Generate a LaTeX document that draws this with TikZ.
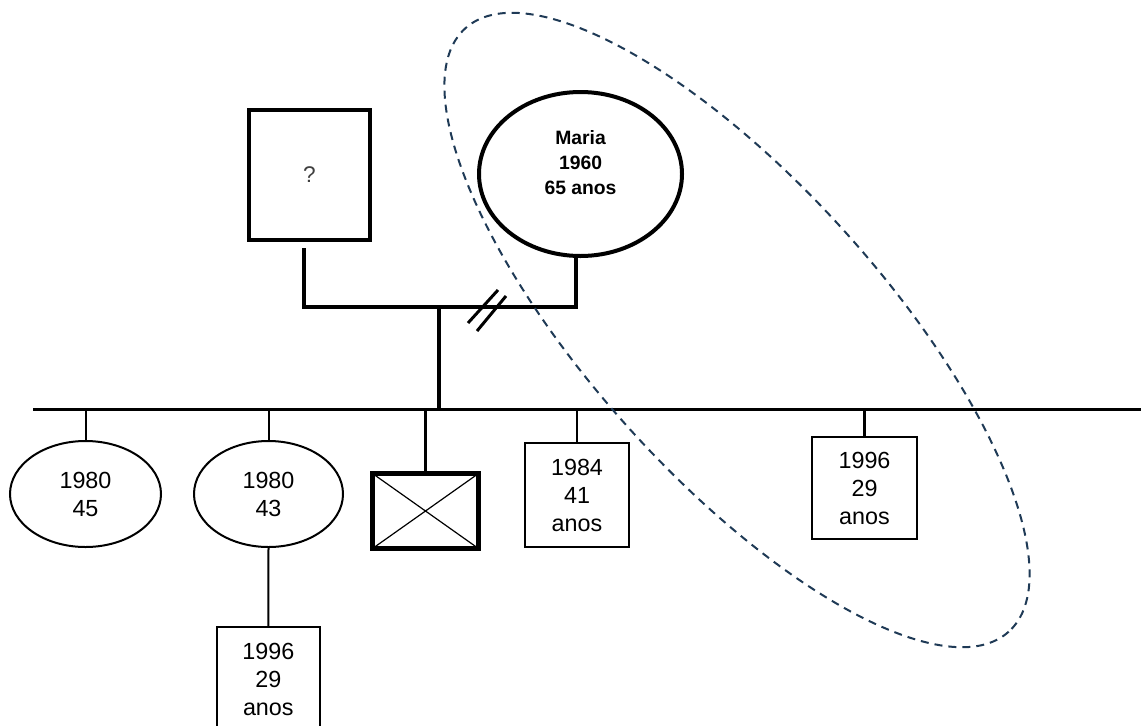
\documentclass[tikz,border=0pt]{standalone}
\usepackage{fontspec}
\setmainfont{Liberation Sans}
\usetikzlibrary{shapes.geometric}
\newdimen\pxu \pxu=0.75pt
\newcommand\kidfont{\fontsize{17.5}{21}\selectfont}
\newcommand\mariafont{\fontsize{14.5}{18.75}\selectfont\bfseries}
\definecolor{dashnavy}{HTML}{1F3A56}
\begin{document}
\begin{tikzpicture}[x=0.75pt,y=-0.75pt,
  sqbox/.style={draw, rectangle, line width=4\pxu, minimum width=121\pxu, minimum height=130\pxu, inner sep=0pt, font=\fontsize{17}{20}\selectfont, text=black!75},
  mariac/.style={draw, ellipse, line width=4\pxu, minimum width=203\pxu, minimum height=164\pxu, inner sep=0pt},
  kidell/.style={draw, ellipse, line width=2\pxu, inner sep=0pt, align=center, font=\kidfont},
  kidbox/.style={draw, rectangle, line width=2\pxu, inner sep=0pt, align=center, font=\kidfont},
  deadbox/.style={draw, rectangle, line width=5\pxu, minimum width=106\pxu, minimum height=75\pxu, inner sep=0pt,
    path picture={\draw[line width=1.2\pxu] (path picture bounding box.north west) -- (path picture bounding box.south east)
      (path picture bounding box.north east) -- (path picture bounding box.south west);}},
  couple/.style={line width=4\pxu},
  sibline/.style={line width=3\pxu},
  ticka/.style={line width=2\pxu},
  tickb/.style={line width=3\pxu},
  groupring/.style={draw=dashnavy, line width=2\pxu, dash pattern=on 8\pxu off 6\pxu}
]
\useasboundingbox (0,0) rectangle (1141,725);
\clip (0,0) rectangle (1141,725);

% parents
\node[sqbox] (father) at (309.5,175) {?};
\node[mariac, label={[font=\mariafont, align=center, yshift=11\pxu]center:{Maria\\1960\\65 anos}}] (maria) at (580.5,174) {};

\coordinate (fl) at (304,248);
\coordinate (jl) at (304,307);
\coordinate (jr) at (576,307);
\draw[couple] (fl) -- (jl) -- (jr) -- (maria.south -| jr);

% divorce marks
\coordinate (s1a) at (468,323);
\coordinate (s1b) at (498,290);
\coordinate (s2a) at (477,331);
\coordinate (s2b) at (506,296);
\draw[line width=3\pxu] (s1a) -- (s1b) (s2a) -- (s2b);

% sibship line
\coordinate (bl) at (33,409);
\coordinate (br) at (1141,409);
\coordinate (st) at (439,307);
\draw[couple] (st) -- (st |- bl);
\draw[sibline] (bl) -- (br);

% children
\node[kidell, minimum width=151\pxu, minimum height=106\pxu] (e1) at (85.5,494) {1980\\45};
\node[kidell, minimum width=149\pxu, minimum height=106\pxu] (e2) at (268.5,494) {1980\\43};
\node[deadbox] (dead) at (425.5,511) {};
\node[kidbox, minimum width=104\pxu, minimum height=104\pxu] (k4) at (577,495) {1984\\41\\anos};
\node[kidbox, minimum width=105\pxu, minimum height=102\pxu] (k6) at (864.5,488) {1996\\29\\anos};
\node[kidbox, minimum width=103\pxu, minimum height=104\pxu] (k5) at (268.3,679) {1996\\29\\anos};

\draw[ticka] (e1.north |- bl) -- (e1.north);
\draw[ticka] (e2.north |- bl) -- (e2.north);
\draw[tickb] (dead.north |- bl) -- (dead.north);
\draw[ticka] (k4.north |- bl) -- (k4.north);
\draw[tickb] (k6.north |- bl) -- (k6.north);
\draw[ticka] (e2.south) -- (k5.north);

% group ring
\draw[groupring, rotate around={-48:(737,330)}] (737,330) ellipse [x radius=406, y radius=146];
\end{tikzpicture}
\end{document}
